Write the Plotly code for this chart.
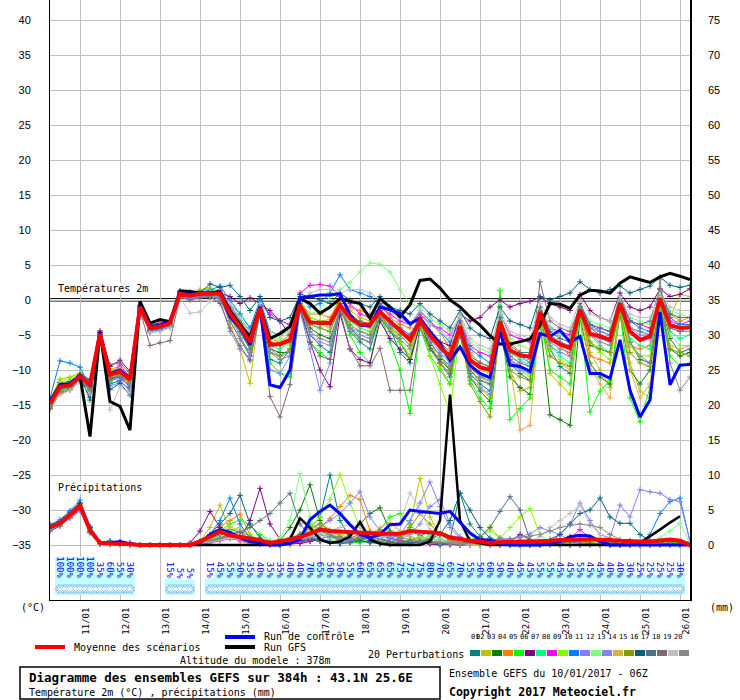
import pandas as pd
import plotly.graph_objects as go

# run GEFS du 10/01/2017 06Z, pas de 6h sur 384h
times = pd.date_range('2017-01-10 06:00', periods=65, freq='6h')
days = pd.date_range('2017-01-11', '2017-01-26', freq='D')
day_labels = [d.strftime('%d/%m') for d in days]

# ---- températures 2m (°C) ----
t_mean = [-14.8, -12.4, -12.2, -10.9, -12.1, -4.8, -10.7, -10.2, -11.4, -1.0, -4.0, -3.8, -3.3, 0.9, 0.6, 0.9, 0.9,
          0.9, -1.9, -3.8, -6.0, -1.2, -6.4, -6.3, -5.7, -0.7, -3.2, -3.3, -3.3, -0.7, -2.6, -3.5, -3.5,
          -1.7, -3.1, -4.3, -5.7, -2.9, -5.0, -6.7, -8.1, -3.8, -8.6, -9.6, -10.0, -3.1, -7.2, -7.9, -8.1,
          -1.7, -5.5, -6.3, -6.9, -1.4, -4.8, -5.2, -5.7, -0.5, -4.5, -5.7, -5.2, 0.2, -3.6, -4.0, -3.9]
t_ctrl = [-14.6, -12.2, -12.0, -10.7, -12.3, -4.6, -10.5, -10.0, -11.2, -0.8, -3.8, -3.6, -3.1, 1.0, 0.8, 1.0, 1.0,
          1.0, -2.4, -4.0, -6.4, -1.0, -12.1, -12.5, -10.0, 0.3, 0.5, 0.7, 0.7, 0.9, -2.1, -3.6, -3.7,
          -1.0, -1.4, -1.9, -3.4, -2.6, -4.5, -6.2, -8.6, -6.7, -9.3, -10.5, -11.1, -4.5, -9.3, -9.5, -10.2,
          -4.8, -5.2, -4.3, -6.0, -5.2, -10.5, -10.5, -11.2, -5.7, -12.9, -16.7, -14.3, -1.7, -12.1, -9.3, -9.2]
t_gfs = [-14.5, -12.1, -12.0, -10.9, -19.5, -4.5, -14.5, -15.2, -18.6, -0.2, -3.3, -2.8, -3.1, 1.3, 1.2, 1.0, 1.0,
         1.2, -1.5, -3.5, -5.2, -1.0, -5.5, -4.8, -3.8, 0.2, -0.5, -1.9, -1.0, 0.2, -0.2, -0.5, -2.6,
         0.2, -1.0, -2.4, -0.7, 2.8, 3.0, 1.7, 0.0, -1.0, -2.4, -3.6, -5.1, -6.3, -6.3, -6.0, -5.6,
         -3.6, -0.5, -0.6, -1.2, 0.7, 1.4, 1.3, 1.0, 2.4, 3.3, 2.9, 2.5, 3.3, 3.8, 3.4, 2.9]

T01 = [-15.2, -12.8, -12.6, -11.2, -13.9, -4.6, -12.0, -11.5, -13.0, -0.8, -4.6, -4.2, -3.6, 0.8, 0.4, 0.7, 1.1,
       0.5, -3.0, -5.5, -8.0, -1.5, -8.5, -9.0, -7.0, -0.5, -5.0, -6.5, -7.5, -1.0, -4.5, -6.0, -7.0,
       -2.0, -4.0, -7.5, -9.0, -3.5, -6.5, -9.0, -11.0, -4.5, -10.5, -12.0, -13.0, -4.0, -9.0, -10.5, -11.5,
       -1.5, -7.0, -9.5, -10.5, -1.0, -6.5, -7.0, -7.5, -1.0, -6.0, -8.5, -9.0, 0.0, -5.5, -7.5, -7.0]
T02 = [-14.2, -11.3, -11.0, -10.4, -11.5, -4.9, -9.8, -9.6, -10.8, -1.4, -3.6, -3.4, -3.0, 1.0, 0.9, 1.2, 0.6,
       0.8, -3.5, -7.0, -11.9, -0.8, -7.5, -8.0, -7.0, 0.2, -2.5, -3.0, -2.8, 0.5, -1.5, -2.5, -3.0,
       -1.0, -3.5, -6.0, -8.0, -2.0, -5.5, -9.5, -12.0, -2.5, -9.0, -12.5, -14.0, -2.0, -10.0, -13.0, -12.5,
       -1.0, -10.5, -12.0, -13.5, -0.5, -7.5, -10.0, -12.5, 0.0, -9.0, -13.0, -14.0, 0.5, -2.5, 0.8, 0.5]
T03 = [-14.9, -12.0, -11.6, -10.7, -12.6, -5.2, -11.2, -10.9, -11.8, -1.2, -4.4, -4.0, -3.5, 0.7, 0.3, 0.5, 0.4,
       0.3, -2.5, -4.5, -7.0, -1.5, -7.0, -7.5, -7.5, -1.0, -4.0, -5.0, -5.5, -1.5, -4.0, -5.5, -6.0,
       -2.5, -4.5, -6.0, -8.5, -3.0, -7.0, -8.5, -10.0, -5.0, -11.0, -13.0, -14.5, -4.5, -11.0, -12.5, -13.5,
       -3.0, -16.4, -17.1, -17.9, -2.5, -9.0, -11.0, -12.0, -2.0, -10.0, -12.0, -10.0, -1.0, -7.0, -8.0, -7.5]
T04 = [-15.6, -13.4, -12.9, -11.4, -12.8, -4.7, -10.3, -10.8, -12.4, -0.9, -3.9, -3.7, -3.4, 1.1, 0.8, 1.4, 1.6,
       1.2, -1.0, -2.5, -4.5, -1.0, -5.5, -6.0, -5.0, -0.5, -2.0, -2.0, -2.5, 0.0, -1.0, -1.5, -2.0,
       -0.5, -2.5, -3.5, -4.0, -1.5, -3.5, -4.5, -7.0, -3.5, -7.5, -9.0, -9.5, -2.5, -6.0, -7.5, -8.5,
       -1.0, -5.0, -6.5, -8.0, -1.0, -8.0, -8.5, -9.0, 0.5, -6.5, -7.0, -6.5, 1.0, -2.0, -3.0, -2.5]
T05 = [-14.6, -12.2, -12.1, -10.9, -12.0, -5.0, -11.8, -10.5, -11.0, -1.3, -4.2, -3.9, -3.1, 0.9, 0.7, 0.8, 1.0,
       0.6, -2.0, -4.0, -6.5, -2.0, -9.0, -10.5, -11.0, -1.5, -6.0, -7.5, -8.5, -1.0, -5.0, -7.5, -9.0,
       -2.0, -6.0, -10.0, -16.2, -4.0, -8.0, -10.0, -12.0, -4.5, -11.5, -14.0, -15.5, 1.4, -17.1, -15.5, -14.0,
       -2.5, -10.0, -11.0, -12.0, -2.0, -16.0, -13.0, -11.5, -1.5, -14.0, -17.4, -12.5, -1.0, -8.0, -9.5, -9.0]
T06 = [-14.5, -11.8, -11.7, -10.6, -11.4, -4.4, -9.5, -8.6, -10.2, -1.1, -3.5, -3.3, -2.9, 1.2, 1.1, 1.3, 0.8,
       1.0, 0.5, -0.5, 0.3, -0.5, -1.5, -3.0, -5.0, -1.0, -6.0, -10.0, -12.4, -2.0, -7.0, -8.5, -9.0,
       -3.0, -5.5, -7.0, -8.5, -3.5, -5.5, -6.0, -6.5, -2.0, -3.0, -2.5, -1.0, 0.0, -1.0, -0.5, -0.2,
       0.4, -0.5, -1.0, -1.5, 0.8, -1.5, -2.5, -3.0, 1.0, -1.0, -1.5, -1.0, 1.6, 0.5, 0.8, 1.6]
T07 = [-15.4, -13.0, -12.7, -11.5, -13.1, -4.9, -10.9, -10.0, -11.6, -0.7, -4.1, -3.6, -3.2, 0.6, 0.5, 0.9, 1.3,
       1.5, -0.5, -2.0, -4.0, -1.0, -6.5, -7.0, -6.0, -0.5, -3.5, -4.0, -4.5, -0.5, -3.0, -4.0, -4.5,
       -1.5, -3.5, -5.0, -6.5, -2.5, -5.0, -7.0, -9.0, -3.5, -9.5, -11.0, -12.0, -2.5, -7.5, -8.5, -9.5,
       -2.0, -6.5, -8.0, -9.0, -1.5, -5.0, -6.5, -7.5, -1.0, -5.5, -6.5, -7.0, 0.0, -4.5, -5.5, -5.0]
T08 = [-14.7, -12.5, -12.3, -11.0, -12.3, -4.6, -10.5, -9.3, -11.1, -1.0, -3.8, -3.5, -3.3, 1.0, 0.8, 1.0, 0.9,
       1.4, -0.5, -3.0, -4.5, -0.5, -2.0, -3.0, -3.5, 1.0, 2.1, 2.2, 2.0, 0.5, -0.5, -2.0, -2.5,
       -1.0, -2.0, -3.0, -3.5, -2.0, -3.5, -4.0, -5.0, -2.5, -6.5, -7.5, -8.0, -2.0, -5.0, -5.5, -6.0,
       -1.5, -4.0, -4.5, -5.0, -1.0, -3.5, -4.0, -4.5, -0.5, -3.0, -3.5, -4.0, 0.0, -3.0, -3.5, -3.0]
T09 = [-14.3, -11.6, -11.2, -10.5, -11.8, -5.3, -10.1, -9.9, -10.9, -1.5, -3.7, -3.8, -3.6, 0.8, 0.9, 1.5, 1.8,
       0.9, -1.5, -3.0, -5.5, -1.0, -5.0, -6.0, -6.5, -0.5, -2.5, -3.0, -3.5, -0.5, -2.0, -3.0, -4.0,
       -1.5, -4.0, -6.0, -8.0, -3.0, -8.0, -12.0, -16.2, -4.0, -10.0, -11.5, -12.0, -3.5, -9.0, -10.0, -11.0,
       -2.0, -7.0, -8.5, -9.5, -1.5, -6.0, -7.5, -8.5, -1.0, -6.5, -8.0, -8.0, 0.5, -5.0, -6.5, -6.5]
T10 = [-14.0, -8.7, -9.0, -9.6, -12.4, -4.9, -11.4, -10.6, -12.0, -0.9, -4.3, -4.1, -3.2, 1.3, 1.0, 1.1, 1.4,
       2.0, 0.0, -2.0, -4.0, 0.0, -4.5, -5.0, -4.0, 0.5, -1.0, -0.5, 1.0, 3.6, 1.5, 1.0, 0.5,
       -0.5, -1.5, -2.5, -3.5, -1.5, -3.0, -4.5, -6.0, -3.0, -7.0, -8.0, -9.0, -2.5, -7.0, -8.0, -9.0,
       -1.0, -4.0, -5.0, -5.5, -0.5, -3.5, -4.5, -5.0, 0.0, -3.0, -4.0, -4.5, 1.0, -2.5, -3.5, -3.5]
T11 = [-15.0, -12.6, -12.4, -11.1, -11.6, -5.1, -12.3, -11.8, -12.7, -1.6, -4.7, -4.3, -3.9, 0.5, 0.1, 0.4, 0.6,
       0.0, -4.5, -7.0, -8.5, -2.0, -10.0, -10.5, -8.0, -1.5, -7.0, -12.9, -9.0, -1.0, -4.0, -4.5, -5.0,
       -2.0, -3.5, -4.5, -5.5, -3.0, -6.0, -8.0, -9.5, -4.0, -9.5, -11.0, -11.0, -3.5, -8.5, -10.0, -10.5,
       -2.0, -6.5, -7.5, -8.0, -1.5, -5.0, -5.5, -6.0, -0.5, -4.5, -5.5, -5.5, 0.5, -3.5, -4.0, -4.0]
T12 = [-14.4, -11.9, -11.8, -10.8, -12.2, -5.0, -10.6, -10.4, -11.3, -1.1, -4.0, -3.9, -3.4, 0.9, 0.8, 1.2, 1.0,
       0.7, -1.0, -2.5, -5.0, -0.5, -5.0, -5.5, -4.5, 0.0, -2.0, -1.5, 0.5, 1.5, 2.5, 4.0, 5.3,
       5.1, 4.0, 1.5, -0.5, -1.0, -2.5, -3.5, -4.5, -2.5, -6.0, -7.0, -7.5, -2.0, -5.5, -6.5, -7.0,
       -1.0, -4.0, -5.0, -5.5, -0.5, -3.0, -3.5, -4.0, 0.0, -2.5, -3.0, -3.5, 0.5, -1.5, -2.0, -2.5]
T13 = [-15.1, -12.7, -12.5, -11.3, -12.5, -4.8, -11.5, -11.2, -12.2, -1.3, -4.5, -4.4, -3.8, 0.7, 0.2, 0.6, 0.7,
       0.4, -2.5, -5.0, -8.0, -1.5, -7.0, -8.0, -7.5, -1.0, -5.0, -6.0, -6.5, -1.0, -4.0, -5.0, -5.5,
       -1.5, -3.0, -4.0, -5.0, -2.5, -5.5, -7.5, -9.0, -3.5, -11.0, -12.5, -13.5, -3.0, -8.0, -9.0, -9.5,
       -1.5, -5.0, -6.0, -6.5, -1.0, -4.0, -4.5, -5.0, -0.5, -4.0, -5.0, -5.0, 0.0, -4.0, -4.5, -4.5]
T14 = [-14.8, -12.1, -11.9, -10.6, -12.0, -4.5, -10.0, -9.8, -11.2, -0.8, -3.6, -3.6, -3.1, 1.1, 1.0, 1.2, 1.2,
       1.1, -1.5, -3.5, -6.0, -1.0, -6.0, -6.5, -6.0, -0.5, -3.0, -3.5, -4.0, -0.5, -2.5, -3.5, -4.0,
       -1.5, -3.0, -4.5, -5.5, -2.5, -5.0, -6.5, -8.0, -3.5, -8.5, -10.0, -10.5, -3.0, -9.5, -18.6, -17.9,
       -2.0, -8.0, -9.0, -10.0, -1.5, -9.5, -12.0, -14.0, -1.0, -10.0, -14.0, -12.0, -0.5, -6.5, -7.0, -6.5]
T15 = [-15.3, -12.9, -12.4, -11.0, -12.7, -5.1, -11.0, -10.7, -11.9, -1.2, -4.2, -4.0, -3.4, 0.8, 0.5, 0.8, 0.9,
       0.6, -2.0, -4.0, -6.5, -1.5, -7.5, -8.0, -7.0, -1.0, -3.5, -4.0, -4.5, -1.0, -3.5, -4.5, -5.0,
       -2.0, -4.0, -5.0, -6.5, -3.0, -6.0, -8.0, -10.0, -4.5, -12.0, -14.5, -16.7, -4.0, -10.0, -11.0, -11.5,
       -2.5, -8.0, -9.0, -9.5, -2.0, -6.0, -7.0, -7.5, -1.5, -7.5, -9.0, -9.5, -0.5, -7.0, -7.5, -8.0]
T16 = [-14.6, -12.3, -11.9, -10.7, -14.3, -4.7, -12.8, -11.9, -13.6, -0.9, -4.3, -4.0, -3.3, 1.0, 0.6, 1.0, 2.3,
       1.8, 2.1, 0.5, -1.5, 0.5, -2.5, -3.0, -2.5, 0.8, 0.5, 0.0, -0.5, 1.0, 0.0, -0.5, -1.0,
       0.5, -1.0, -1.5, -2.0, -0.5, -2.0, -3.0, -4.0, -1.5, -4.0, -5.0, -5.5, -1.0, -3.0, -3.5, -4.0,
       0.5, 0.0, 0.5, 1.0, 2.6, 1.5, 1.0, 1.5, 2.0, 1.0, 1.5, 2.0, 3.3, 2.1, 1.8, 2.1]
T17 = [-14.9, -12.4, -12.0, -10.8, -12.1, -4.9, -11.3, -11.0, -12.5, -1.2, -4.4, -3.9, -3.7, 0.6, 0.4, 0.7, 0.8,
       0.8, -1.0, -3.0, -5.5, -1.0, -6.0, -6.5, -6.0, -0.5, -3.0, -3.5, -3.5, -0.5, -2.5, -3.0, -3.5,
       -1.5, -3.0, -4.0, -5.0, -2.5, -4.5, -6.0, -7.5, -3.0, -8.0, -9.0, -9.5, -2.5, -6.5, -7.5, -7.5,
       -1.0, -4.5, -5.5, -6.0, -0.5, -3.5, -4.0, -4.5, 0.5, -3.0, -3.5, -3.0, 1.5, -2.0, -2.5, -2.5]
T18 = [-15.5, -13.2, -12.8, -11.3, -12.9, -5.4, -9.2, -9.0, -10.5, -1.5, -6.5, -6.1, -5.8, 0.4, 0.0, 0.3, 0.5,
       -0.5, -4.0, -6.5, -8.7, -2.0, -13.8, -16.7, -12.1, -1.5, -6.0, -8.0, -8.5, -1.5, -7.0, -9.4, -9.4,
       -6.9, -12.9, -12.9, -12.9, -4.0, -7.0, -9.0, -10.5, -5.0, -10.0, -11.5, -12.0, -4.0, -8.5, -9.5, -10.0,
       2.6, -3.0, -4.0, -4.5, -1.0, -4.0, -5.0, -5.5, -0.5, -4.0, -4.5, -5.0, 0.0, -4.0, -4.5, -4.0]
T19 = [-14.7, -13.6, -12.9, -11.8, -13.4, -5.0, -15.7, -12.4, -13.3, -1.4, -4.6, -4.5, -4.0, 0.3, -1.9, -1.7, -0.2,
       1.2, -0.5, -2.5, -4.5, -1.0, -4.5, -5.0, -4.5, 0.0, 1.0, 1.5, 1.5, 1.0, 1.5, 1.5, 1.0,
       0.0, -1.5, -2.5, -3.5, -1.5, -3.5, -4.5, -5.5, -2.0, -5.5, -6.5, -7.0, -1.5, -4.5, -5.0, -5.5,
       -0.5, -2.5, -3.5, -4.0, 0.0, -2.0, -2.5, -3.0, 0.5, -2.0, -2.5, -2.5, 1.0, -1.0, -1.5, -1.5]
T20 = [-15.0, -12.2, -12.0, -10.9, -13.0, -4.8, -11.6, -10.8, -11.7, -1.1, -4.1, -3.8, -3.5, 0.8, 0.5, 0.8, 0.7,
       0.2, -3.0, -5.5, -7.5, -1.5, -7.5, -8.5, -8.0, -1.0, -4.5, -5.5, -6.0, -1.0, -4.5, -5.5, -6.0,
       -2.0, -4.5, -5.5, -7.0, -3.0, -6.0, -8.0, -9.5, -4.0, -9.5, -11.0, -11.5, -3.5, -8.0, -9.0, -9.5,
       -1.5, -6.0, -7.0, -7.5, -1.0, -5.0, -6.0, -6.5, -0.5, -6.0, -8.0, -9.0, 2.9, -9.0, -12.9, -11.0]

# ---- précipitations (mm / 6h) ----
p_mean = [2.6, 3.1, 4.3, 5.6, 2.1, 0.3, 0.2, 0.2, 0.1, 0, 0, 0, 0, 0, 0,
          0.5, 1.2, 1.9, 1.4, 1.2, 1.0, 0.7, 0.3, 0.5, 0.8,
          1.1, 1.6, 2.2, 2.0, 1.9, 1.8, 1.7, 1.7, 1.6, 1.6,
          1.6, 2.0, 1.9, 1.8, 1.7, 1.1, 0.8, 0.6, 0.5, 0.3,
          0.4, 0.5, 0.5, 0.5, 0.5, 0.6, 0.7, 0.8, 0.8, 0.8,
          0.8, 0.7, 0.6, 0.5, 0.5, 0.5, 0.6, 0.8, 0.6, 0.0]
p_ctrl = [2.6, 3.2, 4.4, 5.5, 2.2, 0.3, 0.3, 0.5, 0.2, 0, 0, 0, 0, 0, 0,
          0.3, 1.5, 2.2, 1.8, 1.0, 0.5, 0.3, 0, 0, 0.2,
          0.8, 3.6, 4.8, 5.7, 4.5, 2.9, 1.5, 1.0, 1.5, 2.9,
          3.0, 5.0, 4.8, 4.6, 4.5, 4.8, 3.3, 1.7, 0.7, 0.7,
          0.2, 0, 0, 0, 0, 0.2, 0.5, 1.2, 1.4, 1.3,
          0.5, 0, 0, 0, 0, 0, 0, 0, 0, 0]
p_gfs = [2.5, 3.0, 4.3, 5.8, 2.0, 0.3, 0.2, 0.2, 0.1, 0, 0, 0, 0, 0, 0,
         0, 0, 0, 0, 0, 0, 0, 0, 0, 0.8,
         3.8, 2.5, 0.8, 0.3, 0.5, 1.2, 3.3, 0.8, 0.2, 0,
         0, 0, 0, 0.5, 3.5, 21.5, 3.5, 0.5, 0.2, 0,
         0, 0, 0, 0, 0, 0, 0, 0, 0, 0,
         0, 0, 0, 0, 0.3, 1.2, 2.2, 3.2, 4.1, None]

P01 = [2.2, 3.4, 4.6, 5.9, 2.4, 0.2, 0.4, 0.1, 0, 0, 0, 0, 0, 0, 0,
       0.3, 0.8, 1.5, 2.2, 1.8, 0.6, 0.2, 0, 0, 0.4,
       1.2, 2.5, 4.0, 10.0, 3.5, 1.0, 0.5, 0.3, 0.2, 0.4,
       1.0, 2.0, 1.4, 0.6, 0.3, 0.8, 7.4, 3.0, 1.2, 0.4,
       0.2, 0, 0, 0, 0.2, 0.5, 0.3, 0.2, 0.6, 1.0,
       0.5, 0.2, 0, 0, 0.1, 0.3, 0.2, 0, 0, 0]
P02 = [2.8, 2.9, 4.0, 5.2, 2.0, 0.3, 0.1, 0.2, 0.1, 0, 0, 0, 0, 0, 0,
       0.6, 2.5, 5.7, 2.0, 0.5, 0.2, 0.8, 0.3, 0, 0,
       0.3, 0.6, 1.5, 0.8, 0.4, 0.2, 0.5, 1.2, 2.0, 1.0,
       0.5, 3.0, 9.5, 4.0, 1.5, 0.8, 0.5, 0.3, 1.0, 2.6,
       1.0, 0.3, 0, 0, 0, 0.2, 0.4, 0.2, 0, 0,
       0, 0.2, 0.4, 0.2, 0, 0, 0.2, 0.3, 0.1, 0]
P03 = [2.5, 3.0, 4.4, 5.5, 1.8, 0.2, 0.3, 0.2, 0, 0, 0, 0, 0, 0, 0,
       0.2, 0.5, 1.0, 1.6, 1.2, 0.8, 0.4, 0.2, 0.6, 2.5,
       5.0, 8.6, 3.5, 1.5, 0.8, 1.5, 3.0, 4.5, 5.3, 2.0,
       0.8, 0.4, 0.3, 0.5, 0.2, 0.1, 0.3, 0.5, 0.2, 0,
       0, 0, 0.2, 0.4, 0.3, 0.2, 0.1, 0, 0, 0,
       0, 0.2, 0.5, 0.6, 0.3, 0.2, 0.4, 0.6, 0.3, 0]
P04 = [3.0, 3.2, 4.8, 6.0, 2.6, 0.4, 0.2, 0.3, 0.1, 0, 0, 0, 0, 0, 0.2,
       0.5, 1.2, 2.6, 3.5, 4.4, 1.5, 0.5, 0.2, 0, 0.2,
       0.5, 1.2, 2.5, 3.8, 5.5, 7.1, 6.5, 2.0, 0.8, 0.5,
       0.3, 0.2, 0.6, 1.0, 0.5, 0.2, 0, 0, 0.2, 0.5,
       0.3, 0.1, 0, 0, 0.2, 0.6, 0.4, 0.2, 0.3, 0.2,
       0.1, 0, 0, 0, 0.2, 0.4, 0.6, 0.3, 0.1, 0]
P05 = [2.4, 3.1, 4.2, 5.3, 2.2, 0.3, 0.2, 0.1, 0.1, 0, 0, 0, 0, 0, 0,
       0.4, 1.0, 2.0, 3.0, 3.6, 2.8, 1.5, 0.6, 0.2, 0.5,
       1.5, 3.0, 2.0, 1.2, 0.6, 0.4, 0.3, 1.0, 2.2, 4.0,
       4.5, 3.0, 1.0, 0.4, 0.2, 0.1, 0, 0, 0.3, 0.8,
       0.5, 0.2, 0, 0, 0, 0.2, 0.4, 0.3, 0.1, 0,
       0, 0, 0.2, 0.4, 0.2, 0.1, 0, 0.3, 0.5, 0]
P06 = [2.0, 2.7, 3.9, 5.0, 1.9, 0.2, 0.1, 0.1, 0, 0, 0, 0, 0, 0, 0.3,
       2.0, 4.8, 2.5, 1.0, 0.8, 3.5, 8.1, 3.0, 0.8, 0.3,
       0.2, 0.5, 0.8, 0.4, 0.2, 0.5, 1.0, 0.6, 0.2, 0.1,
       0.2, 0.4, 0.3, 0.1, 0, 0.2, 0.5, 0.8, 1.0, 0.6,
       0.2, 0.5, 1.5, 0.8, 0.2, 0.3, 0.5, 1.2, 0.8, 0.3,
       0.1, 0, 0, 0.1, 0.3, 0.2, 0.1, 0, 0, 0]
P07 = [2.6, 3.3, 4.5, 5.8, 2.3, 0.3, 0.3, 0.2, 0.1, 0, 0, 0, 0, 0, 0,
       0.2, 0.4, 0.8, 1.5, 1.2, 0.6, 0.3, 0.1, 0, 0.3,
       0.8, 1.2, 2.0, 1.6, 1.0, 0.6, 0.8, 1.5, 1.2, 0.8,
       0.5, 0.3, 0.6, 1.5, 1.0, 0.4, 0.2, 0.1, 0, 0,
       0.2, 0.3, 0.2, 0, 0, 0.2, 0.3, 0.5, 0.8, 0.4,
       0.2, 0, 0, 0.2, 0.5, 0.3, 0.2, 0.1, 0, 0]
P08 = [2.7, 3.0, 4.1, 5.4, 2.1, 0.2, 0.2, 0.3, 0.2, 0, 0, 0, 0, 0, 0,
       0.1, 0.3, 0.6, 0.9, 0.7, 0.3, 0.1, 0, 0, 0.2,
       0.4, 0.6, 0.9, 1.2, 0.8, 0.5, 0.6, 1.0, 1.4, 1.0,
       0.6, 0.5, 1.2, 2.0, 1.5, 0.8, 0.3, 0.1, 0, 0,
       0, 0.1, 0, 0, 0, 0.3, 0.6, 0.9, 2.2, 1.0,
       0.4, 0.2, 0.1, 0, 0, 0.2, 0.3, 0.1, 0, 0]
P09 = [2.3, 3.2, 4.4, 5.7, 2.2, 0.3, 0.2, 0.2, 0, 0, 0, 0, 0, 0, 0,
       0.3, 0.7, 1.2, 2.0, 2.5, 1.5, 0.6, 0.3, 0.2, 0.8,
       1.5, 2.5, 4.0, 6.5, 10.0, 6.0, 2.5, 1.0, 0.5, 0.3,
       0.4, 0.8, 1.2, 0.6, 0.3, 0.2, 0.4, 0.8, 1.2, 2.0,
       1.0, 2.5, 4.0, 5.2, 1.5, 0.3, 0, 0, 0.2, 0.3,
       0.2, 0.1, 0, 0, 0, 0.2, 0.4, 0.2, 0, 0]
P10 = [2.9, 3.6, 4.9, 6.4, 2.7, 0.4, 0.6, 0.5, 0.3, 0, 0, 0, 0, 0, 0,
       0.4, 1.5, 3.5, 6.7, 3.0, 1.0, 0.4, 0.2, 0, 0.3,
       0.6, 1.0, 0.8, 0.5, 0.3, 0.6, 1.2, 1.8, 1.0, 0.5,
       0.3, 0.2, 0.4, 0.3, 0.1, 0, 0, 0.1, 0.2, 0.4,
       0.3, 0.2, 0, 0, 0, 0, 0.2, 0.4, 0.3, 0.2,
       0, 0, 0, 0, 0.3, 1.5, 4.5, 6.2, 6.7, 0.5]
P11 = [2.1, 2.8, 3.8, 4.9, 1.7, 0.2, 0.1, 0.1, 0, 0, 0, 0, 0, 0, 0,
       0.2, 0.5, 1.0, 1.5, 2.0, 1.2, 0.5, 0.2, 0.1, 0.5,
       1.0, 1.8, 2.5, 3.5, 4.5, 6.0, 7.6, 4.0, 2.0, 1.0,
       1.5, 3.5, 6.0, 9.0, 5.5, 2.5, 1.0, 0.4, 0.2, 0.5,
       1.0, 0.8, 0.4, 0.2, 0.1, 0.3, 1.5, 3.0, 6.0, 3.5,
       1.5, 1.0, 5.7, 4.0, 7.9, 7.6, 7.4, 6.5, 6.2, 0.5]
P12 = [2.5, 3.0, 4.3, 5.6, 2.0, 0.3, 0.2, 0.2, 0.1, 0, 0, 0, 0, 0, 0,
       0.2, 0.6, 1.2, 1.8, 1.4, 0.8, 0.5, 0.4, 1.0, 3.5,
       10.2, 4.0, 1.5, 0.8, 0.5, 0.4, 0.6, 0.8, 0.5, 0.3,
       0.2, 0.4, 0.8, 1.2, 0.6, 0.3, 0.2, 0.1, 0, 0,
       0.1, 0.2, 0.2, 0.1, 0, 0, 0.1, 0.2, 0.1, 0,
       0, 0, 0, 0, 0, 0.3, 1.0, 2.0, 3.1, 0.3]
P13 = [2.4, 3.1, 4.2, 5.5, 2.0, 0.2, 0.3, 0.2, 0, 0, 0, 0, 0, 0, 0,
       0.3, 0.7, 1.0, 1.3, 1.0, 0.5, 0.3, 0.2, 0.1, 0.4,
       0.8, 1.0, 1.5, 1.2, 0.8, 0.5, 0.8, 1.2, 1.5, 1.2,
       0.8, 1.5, 3.0, 5.5, 6.5, 3.0, 1.2, 0.5, 0.3, 0.2,
       0.4, 0.8, 1.2, 1.6, 2.5, 2.0, 1.5, 0.6, 0.3, 0.2,
       0.2, 0.1, 0, 0, 0, 0, 0.1, 0.2, 0, 0]
P14 = [2.6, 3.2, 4.4, 5.7, 2.2, 0.3, 0.2, 0.2, 0.1, 0, 0, 0, 0, 0, 0,
       0.4, 0.9, 1.8, 2.6, 2.0, 0.8, 0.3, 0.2, 0.1, 0.5,
       1.2, 2.0, 3.0, 2.2, 1.5, 1.0, 0.8, 1.5, 2.5, 3.2,
       2.0, 1.2, 0.8, 0.5, 0.3, 0.2, 0.1, 0, 0, 0.2,
       0.3, 0.2, 0.1, 0, 0, 0.2, 0.5, 0.8, 0.5, 0.2,
       0.1, 0, 0, 0, 0.1, 0.2, 0.1, 0, 0, 0]
P15 = [2.3, 2.9, 4.0, 5.3, 1.9, 0.2, 0.2, 0.1, 0, 0, 0, 0, 0, 0, 0,
       0.3, 0.6, 1.0, 1.4, 1.2, 0.6, 0.3, 0.1, 0.2, 0.8,
       1.6, 2.4, 3.0, 2.0, 1.2, 0.8, 1.0, 1.5, 2.0, 1.6,
       1.2, 2.5, 4.5, 3.0, 1.5, 0.6, 0.3, 0.2, 0.1, 0.2,
       0.2, 0.1, 0, 0, 0, 0.1, 0.2, 0.4, 0.6, 0.3,
       0.1, 0, 0, 0, 0, 0.1, 0.2, 0.1, 0, 0]
P16 = [2.7, 3.3, 4.7, 6.0, 2.5, 0.3, 0.5, 0.4, 0.2, 0, 0, 0, 0, 0, 0,
       0.5, 1.5, 3.0, 4.5, 7.1, 3.0, 1.0, 0.3, 0.1, 0.3,
       0.6, 0.8, 0.5, 0.3, 0.2, 0.4, 0.6, 0.4, 0.2, 0.1,
       0.2, 0.3, 0.5, 0.8, 1.5, 3.5, 7.4, 5.0, 2.5, 1.0,
       0.5, 0.3, 0.2, 0.1, 0.3, 0.8, 1.5, 3.0, 4.5, 5.0,
       6.7, 4.0, 3.1, 3.1, 1.5, 0.6, 0.3, 0.1, 0, 0]
P17 = [2.5, 3.0, 4.3, 5.6, 2.1, 0.3, 0.2, 0.2, 0.1, 0, 0, 0, 0, 0, 0,
       0.2, 0.5, 1.0, 1.5, 1.8, 2.5, 3.5, 4.5, 6.0, 7.4,
       3.0, 1.2, 0.6, 0.3, 0.2, 0.4, 0.8, 1.2, 0.8, 0.4,
       0.3, 0.2, 0.4, 0.6, 0.3, 0.1, 0.2, 0.5, 1.2, 2.5,
       4.8, 6.9, 5.0, 0.7, 0.2, 0.1, 0, 0, 0.1, 0.2,
       0.1, 0, 0, 0, 0, 0.1, 0.2, 0.1, 0, 0]
P18 = [2.4, 3.1, 4.3, 5.4, 2.0, 0.2, 0.2, 0.1, 0.1, 0, 0, 0, 0, 0, 0,
       0.2, 0.5, 0.8, 1.2, 1.0, 0.6, 0.4, 0.3, 0.5, 1.0,
       1.5, 1.0, 0.6, 0.4, 0.6, 1.0, 1.5, 1.0, 0.5, 0.3,
       0.4, 0.6, 0.5, 0.3, 0.2, 0.1, 0, 0.2, 0.4, 0.6,
       0.8, 0.5, 0.3, 0.2, 0.1, 0.2, 0.3, 0.5, 0.6, 0.8,
       0.5, 0.3, 0.2, 0.1, 0, 0, 0.2, 0.3, 0.1, 0]
P19 = [2.6, 3.2, 4.4, 5.6, 2.1, 0.3, 0.2, 0.2, 0, 0, 0, 0, 0, 0, 0,
       0.2, 0.4, 0.7, 1.0, 0.8, 0.4, 0.2, 0.1, 0.2, 0.5,
       0.8, 1.2, 1.6, 2.0, 2.5, 3.0, 2.5, 1.5, 1.0, 1.5,
       3.0, 7.4, 5.0, 2.0, 0.8, 0.4, 0.2, 0.1, 0.3, 0.6,
       0.5, 0.3, 0.2, 0.5, 1.2, 2.5, 3.5, 4.5, 5.7, 3.0,
       1.5, 0.8, 0.4, 0.2, 0.1, 0.2, 0.1, 0, 0, 0]
P20 = [2.5, 3.1, 4.2, 5.5, 2.0, 0.3, 0.2, 0.2, 0.1, 0, 0, 0, 0, 0, 0,
       0.3, 0.6, 1.0, 1.4, 1.2, 0.8, 0.5, 0.3, 0.2, 0.4,
       0.8, 1.5, 2.0, 1.5, 1.0, 0.8, 1.2, 1.8, 2.0, 1.5,
       1.0, 0.8, 0.6, 0.5, 0.4, 0.3, 0.2, 0.2, 0.3, 0.5,
       0.6, 0.8, 1.0, 1.2, 1.5, 2.0, 2.5, 2.8, 3.0, 2.8,
       2.5, 1.5, 0.8, 0.4, 0.2, 0.1, 0, 0, 0, 0]

member_temps = [T01, T02, T03, T04, T05, T06, T07, T08, T09, T10,
                T11, T12, T13, T14, T15, T16, T17, T18, T19, T20]
member_precs = [P01, P02, P03, P04, P05, P06, P07, P08, P09, P10,
                P11, P12, P13, P14, P15, P16, P17, P18, P19, P20]
member_colors = ['#008080', '#c0c000', '#008000', '#ff8000', '#00ff00', '#800080', '#00ff80',
                 '#ff00ff', '#80ff00', '#0080ff', '#8080ff', '#80ff80', '#8484f8', '#e0b040',
                 '#80a000', '#006080', '#507080', '#806870', '#c0c0c0', '#888888']

# ---- probabilité de neige (%) ----
snow_steps = [1, 2, 3, 4, 5, 6, 7, 8, 12, 13, 14] + list(range(16, 64))
snow_pct = [100, 100, 100, 100, 35, 60, 55, 30, 15, 5, 5,
            15, 45, 55, 50, 35, 40, 35, 35, 40, 40,
            70, 65, 50, 50, 55, 60, 65, 65, 65, 75,
            75, 75, 80, 70, 65, 70, 55, 50, 60, 50,
            40, 45, 45, 55, 55, 45, 45, 55, 45, 45,
            40, 40, 30, 25, 25, 25, 25, 30]
snow_times = [times[i] for i in snow_steps]

MONO = 'DejaVu Sans Mono'
SNOW_FLOOR = -57.6   # bas du bandeau neige sur l'axe y3


def px(x):
    # position horizontale en pixels -> coordonnée paper
    return (x - 50) / 640


def py(y):
    return (600 - y) / 600


fig = go.Figure()

for k in range(20):
    col = member_colors[k]
    mk = dict(symbol='cross-thin', size=4, line=dict(width=1, color=col), color=col)
    fig.add_trace(go.Scatter(x=times, y=member_temps[k], mode='lines+markers',
                             line=dict(color=col, width=1), marker=mk, yaxis='y'))
    fig.add_trace(go.Scatter(x=times, y=member_precs[k], mode='lines+markers',
                             line=dict(color=col, width=1), marker=mk, yaxis='y2'))

fig.add_trace(go.Scatter(x=times, y=t_gfs, mode='lines', line=dict(color='black', width=3), yaxis='y'))
fig.add_trace(go.Scatter(x=times, y=p_gfs, mode='lines', line=dict(color='black', width=2.5), yaxis='y2'))
fig.add_trace(go.Scatter(x=times, y=t_ctrl, mode='lines', line=dict(color='#0000ff', width=3), yaxis='y'))
fig.add_trace(go.Scatter(x=times, y=p_ctrl, mode='lines', line=dict(color='#0000ff', width=3), yaxis='y2'))
fig.add_trace(go.Scatter(x=times, y=t_mean, mode='lines', line=dict(color='#ff0000', width=4), yaxis='y'))
fig.add_trace(go.Scatter(x=times, y=p_mean, mode='lines', line=dict(color='#ff0000', width=4), yaxis='y2'))

# bandeau neige : fond sous les flocons + barre proportionnelle au pourcentage
bar_w = 6 * 3600 * 1000
fig.add_trace(go.Bar(x=snow_times, y=[-SNOW_FLOOR] * len(snow_times), base=SNOW_FLOOR, width=bar_w,
                     marker=dict(color='#c4ffff', line=dict(width=0)), yaxis='y3'))
fig.add_trace(go.Bar(x=snow_times, y=snow_pct, width=bar_w,
                     marker=dict(color='#c4ffff', line=dict(width=0)), yaxis='y3'))
half = [t + pd.Timedelta(hours=3) for t in snow_times if t + pd.Timedelta(hours=6) in snow_times]
flake_times = snow_times + half
fig.add_trace(go.Scatter(x=flake_times, y=[-33] * len(flake_times), mode='markers', yaxis='y3',
                         marker=dict(symbol='circle', size=9, color='#74c2ee',
                                     line=dict(width=1, color='#9ad6f6'))))
fig.add_trace(go.Scatter(x=flake_times, y=[-33] * len(flake_times), mode='markers', yaxis='y3',
                         marker=dict(symbol='asterisk-open', size=7, color='white',
                                     line=dict(width=1, color='#e6f6ff'))))

annotations = []
for t, p in zip(snow_times, snow_pct):
    annotations.append(dict(x=t, y=3, xref='x', yref='y3', text=f'{p}%', showarrow=False,
                            textangle=90, yanchor='bottom', xanchor='center',
                            font=dict(family=MONO, size=9, color='#0000ff')))

shapes = [
    dict(type='line', xref='paper', yref='y', x0=0, x1=1, y0=0.2, y1=0.2, line=dict(color='black', width=1), layer='below'),
    dict(type='line', xref='paper', yref='y', x0=0, x1=1, y0=-0.15, y1=-0.15, line=dict(color='black', width=1), layer='below'),
    dict(type='line', xref='paper', yref='paper', x0=px(35), x1=px(65), y0=py(647), y1=py(647), line=dict(color='#ff0000', width=4)),
    dict(type='line', xref='paper', yref='paper', x0=px(225), x1=px(255), y0=py(637), y1=py(637), line=dict(color='#0000ff', width=4)),
    dict(type='line', xref='paper', yref='paper', x0=px(225), x1=px(255), y0=py(647), y1=py(647), line=dict(color='black', width=4)),
    dict(type='rect', xref='paper', yref='paper', x0=px(20), x1=px(440), y0=py(699), y1=py(667), line=dict(color='black', width=1.5)),
]
for k in range(20):
    shapes.append(dict(type='rect', xref='paper', yref='paper', x0=px(470 + 11 * k), x1=px(480 + 11 * k),
                       y0=py(656), y1=py(650), fillcolor=member_colors[k], line=dict(width=0)))
    annotations.append(dict(x=px(475 + 11 * k), y=py(643), xref='paper', yref='paper', text=f'{k + 1:02d}',
                            showarrow=False, font=dict(family=MONO, size=7, color='black')))


def label(x, y, text, size=10, anchor='left', bold=False, bg=None):
    annotations.append(dict(x=px(x), y=py(y), xref='paper', yref='paper', showarrow=False,
                            text=f'<b>{text}</b>' if bold else text, xanchor=anchor, yanchor='middle',
                            font=dict(family=MONO, size=size, color='black'),
                            bgcolor=bg, borderpad=0))


label(57, 288, 'Températures 2m', bg='white')
label(57, 487, 'Précipitations', bg='white')
label(20, 607, '(°C)')
label(709, 607, '(mm)')
label(73, 647, 'Moyenne des scénarios')
label(263, 636, 'Run de contrôle')
label(263, 647, 'Run GFS')
label(179, 660, 'Altitude du modele : 378m')
label(367, 654, '20 Perturbations')
label(28, 677, 'Diagramme des ensembles GEFS sur 384h : 43.1N 25.6E', size=12.5, bold=True)
label(28, 692, 'Température 2m (°C) , précipitations (mm)')
label(448, 673, 'Ensemble GEFS du 10/01/2017 - 06Z')
label(448, 692, 'Copyright 2017 Meteociel.fr', size=11.5, bold=True)

grid = '#c0c0c0'
fig.update_layout(
    width=740, height=700,
    margin=dict(l=50, r=50, t=0, b=100, pad=0),
    paper_bgcolor='white', plot_bgcolor='white',
    showlegend=False, bargap=0, barmode='overlay',
    xaxis=dict(type='date', range=[times[0], times[-1]], tickvals=list(days), ticktext=day_labels,
               tickangle=-90, ticks='', showgrid=True, gridcolor=grid, gridwidth=1,
               showline=True, linecolor='black', linewidth=1, zeroline=False,
               ticklabelshift=6, ticklabelstandoff=3,
               tickfont=dict(family=MONO, size=9, color='black')),
    yaxis=dict(range=[-300 / 7, 300 / 7], tickvals=list(range(-35, 41, 5)), ticks='',
               showgrid=True, gridcolor=grid, gridwidth=1, zeroline=False,
               showline=True, linecolor='black', linewidth=1, ticklabelstandoff=16,
               tickfont=dict(family='Liberation Sans', size=11, color='black')),
    yaxis2=dict(overlaying='y', side='right', range=[-300 / 7 + 35, 300 / 7 + 35],
                tickvals=list(range(0, 76, 5)), ticks='', showgrid=False, zeroline=False,
                showline=True, linecolor='black', linewidth=1.5, ticklabelstandoff=14,
                tickfont=dict(family='Liberation Sans', size=11, color='black')),
    yaxis3=dict(domain=[5 / 600, 43.3 / 600], range=[SNOW_FLOOR, 100], anchor='x', visible=False,
                showgrid=False, zeroline=False),
    shapes=shapes,
    annotations=annotations,
)

fig.write_html('out.html', config={'displayModeBar': False},
               post_script="document.body.style.margin='0';document.body.style.overflow='hidden';")
